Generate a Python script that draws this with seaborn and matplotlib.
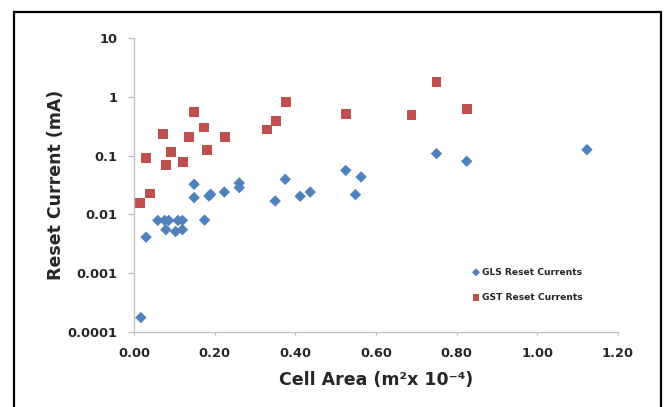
import numpy as np
import pandas as pd
import matplotlib
matplotlib.use("Agg")
import matplotlib.pyplot as plt
from matplotlib.patches import Rectangle
import seaborn as sns

# GLS reset currents (blue diamonds)
gls_area = [0.017, 0.030, 0.059, 0.076, 0.086, 0.109, 0.120, 0.175,
            0.079, 0.103, 0.120, 0.149, 0.149, 0.186, 0.190, 0.224,
            0.261, 0.261, 0.350, 0.375, 0.412, 0.437, 0.525, 0.549,
            0.563, 0.750, 0.825, 1.123]
gls_current = [0.000176, 0.0041, 0.0079, 0.0079, 0.0079, 0.0079, 0.0079, 0.0080,
               0.0055, 0.0051, 0.0055, 0.0325, 0.0193, 0.0205, 0.022, 0.024,
               0.0342, 0.0286, 0.0169, 0.0395, 0.0203, 0.024, 0.056, 0.0217,
               0.0433, 0.108, 0.080, 0.126]

# GST reset currents (red squares)
gst_area = [0.015, 0.040, 0.030, 0.071, 0.080, 0.092, 0.121, 0.137, 0.149, 0.174,
            0.181, 0.226, 0.330, 0.352, 0.376, 0.526, 0.688, 0.750, 0.826]
gst_current = [0.0155, 0.0226, 0.090, 0.233, 0.069, 0.117, 0.077, 0.21, 0.545, 0.30,
               0.124, 0.21, 0.278, 0.387, 0.806, 0.51, 0.49, 1.81, 0.62]

y_ticks = [0.0001, 0.001, 0.01, 0.1, 1, 10]
y_tick_labels = ["0.0001", "0.001", "0.01", "0.1", "1", "10"]
x_ticks = [0.0, 0.2, 0.4, 0.6, 0.8, 1.0, 1.2]
x_tick_labels = ["0.00", "0.20", "0.40", "0.60", "0.80", "1.00", "1.20"]

gls = pd.DataFrame({"area": gls_area, "current": gls_current})
gst = pd.DataFrame({"area": gst_area, "current": gst_current})

sns.set_style("white")
plt.rcParams["font.family"] = ["DejaVu Sans"]
plt.rcParams["font.weight"] = "bold"

fig = plt.figure(figsize=(6.7, 4.07), dpi=100)
ax = fig.add_axes([134 / 670, 1 - 332 / 407, (618 - 134) / 670, (332 - 38) / 407])

sns.scatterplot(data=gls, x="area", y="current", marker="D", s=34, color="#4F81BD",
                edgecolor="none", label="GLS Reset Currents", ax=ax, zorder=3)
sns.scatterplot(data=gst, x="area", y="current", marker="s", s=50, color="#C0504D",
                edgecolor="none", label="GST Reset Currents", ax=ax, zorder=2)

ax.set_yscale("log")
ax.set_ylim(0.0001, 10)
ax.set_xlim(0, 1.2)
ax.set_yticks(y_ticks)
ax.set_yticklabels(y_tick_labels)
ax.set_xticks(x_ticks)
ax.set_xticklabels(x_tick_labels)
ax.yaxis.set_minor_locator(matplotlib.ticker.NullLocator())

for side in ["top", "right"]:
    ax.spines[side].set_visible(False)
for side in ["left", "bottom"]:
    ax.spines[side].set_color("#BFBFBF")
    ax.spines[side].set_linewidth(0.9)

ax.tick_params(axis="y", which="major", direction="out", length=4.3, width=0.9,
               color="#BFBFBF", pad=7.5, labelsize=9.3, left=True)
ax.tick_params(axis="x", which="major", direction="out", length=2.5, width=0.9,
               color="#BFBFBF", pad=8.5, labelsize=9.3, bottom=True)
for lab in ax.get_xticklabels() + ax.get_yticklabels():
    lab.set_fontweight("bold")

ax.set_xlabel("Cell Area (m\u00b2x 10\u207b\u2074)", fontsize=12.5, fontweight="bold", labelpad=8)
ax.set_ylabel("Reset Current (mA)", fontsize=12.5, fontweight="bold", labelpad=2)

leg = ax.legend(loc="center left", bbox_to_anchor=(0.699, 0.16), frameon=False,
                fontsize=6.6, labelspacing=1.8, handlelength=0.8, handletextpad=0.3,
                borderpad=0, borderaxespad=0, markerscale=0.7)
for t in leg.get_texts():
    t.set_fontweight("bold")

# outer chart border (clipped at the bottom of the image)
fig.patches.append(Rectangle((14 / 670, -0.05), (661 - 14) / 670, 0.05 + 1 - 12 / 407,
                             transform=fig.transFigure, fill=False,
                             edgecolor="black", linewidth=1.6))

fig.savefig("out.png", dpi=100, facecolor="white")
